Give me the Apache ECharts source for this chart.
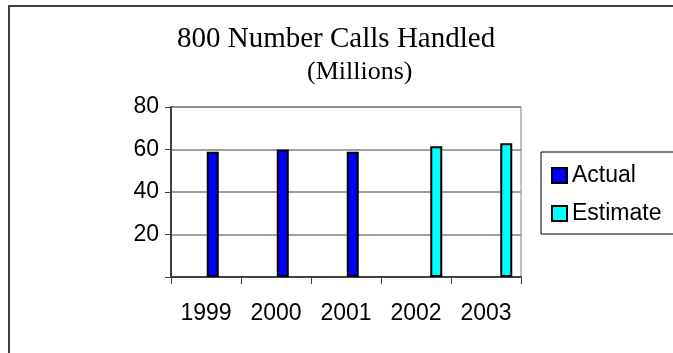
<!DOCTYPE html>
<html>
<head>
<meta charset="utf-8">
<script src="https://cdn.jsdelivr.net/npm/echarts@6/dist/echarts.min.js"></script>
<style>
  html, body { margin: 0; padding: 0; background: #fff; }
  #chart { width: 673px; height: 353px; }
</style>
</head>
<body>
<div id="chart"></div>
<script>
// Yearly 800-number call volume, in millions
const years = ['1999', '2000', '2001', '2002', '2003'];
const actualCalls = [59, 60, 59, '-', '-'];
const estimateCalls = ['-', '-', '-', 61.5, 63];
const yTicks = [0, 20, 40, 60, 80];

const chartTitle = '800 Number Calls Handled';
const chartSubtitle = '(Millions)';

const sansFont = 'Arial, "Liberation Sans", sans-serif';
const serifFont = '"Times New Roman", "Liberation Serif", serif';

const chart = echarts.init(document.getElementById('chart'), null, { renderer: 'canvas' });

const plot = { left: 171, top: 107, width: 350, height: 170 };
const barShift = 13.5; // bars sit in the right half of each year's band

chart.setOption({
  animation: false,
  backgroundColor: '#ffffff',
  title: [
    {
      text: chartTitle,
      left: 172, top: 20,
      textStyle: { fontFamily: serifFont, fontSize: 29, fontWeight: 'normal', color: '#000' }
    },
    {
      text: chartSubtitle,
      left: 302, top: 54,
      textStyle: { fontFamily: serifFont, fontSize: 26, fontWeight: 'normal', color: '#000' }
    }
  ],
  legend: {
    orient: 'vertical',
    left: 541, top: 152,
    padding: [12, 40, 9, 10],
    itemWidth: 15, itemHeight: 15, itemGap: 15,
    icon: 'rect',
    borderColor: '#000', borderWidth: 1,
    textStyle: { fontFamily: sansFont, fontSize: 23, lineHeight: 15, color: '#000' },
    data: ['Actual', 'Estimate']
  },
  grid: [
    {
      left: plot.left, top: plot.top, width: plot.width, height: plot.height,
      show: true, borderColor: '#808080', borderWidth: 1, backgroundColor: 'transparent'
    },
    {
      left: plot.left + barShift, top: plot.top, width: plot.width, height: plot.height
    }
  ],
  xAxis: [
    {
      type: 'category', gridIndex: 0, data: years, boundaryGap: true,
      axisLine: { lineStyle: { color: '#404040', width: 2 } },
      axisTick: { show: true, length: 7, lineStyle: { color: '#404040', width: 1 } },
      axisLabel: { fontFamily: sansFont, fontSize: 23, color: '#000', margin: 25 }
    },
    {
      type: 'category', gridIndex: 1, data: years, boundaryGap: true, show: false
    }
  ],
  yAxis: [
    {
      type: 'value', gridIndex: 0, min: yTicks[0], max: yTicks[yTicks.length - 1], interval: 20,
      axisLine: { show: true, lineStyle: { color: '#404040', width: 2 } },
      axisTick: { show: true, length: 6, lineStyle: { color: '#404040', width: 1 } },
      splitLine: { show: true, lineStyle: { color: '#808080', width: 1.5 } },
      axisLabel: {
        fontFamily: sansFont, fontSize: 23, color: '#000', margin: 12,
        formatter: v => (v === 0 ? '' : String(v))
      }
    },
    {
      type: 'value', gridIndex: 1, min: yTicks[0], max: yTicks[yTicks.length - 1], interval: 20, show: false,
      splitLine: { show: false }
    }
  ],
  series: [
    {
      name: 'Actual', type: 'bar', xAxisIndex: 1, yAxisIndex: 1,
      data: actualCalls, barWidth: 12, barGap: '12.5%',
      itemStyle: { color: '#0000ff', borderColor: '#000', borderWidth: 2 }
    },
    {
      name: 'Estimate', type: 'bar', xAxisIndex: 1, yAxisIndex: 1,
      data: estimateCalls, barWidth: 12, barGap: '12.5%',
      itemStyle: { color: '#00ffff', borderColor: '#000', borderWidth: 2 }
    }
  ],
  graphic: [
    {
      type: 'polyline', silent: true,
      shape: { points: [[9, 360], [9, 6], [690, 6]] },
      style: { stroke: '#404040', lineWidth: 2, fill: null }
    }
  ]
});
</script>
</body>
</html>
